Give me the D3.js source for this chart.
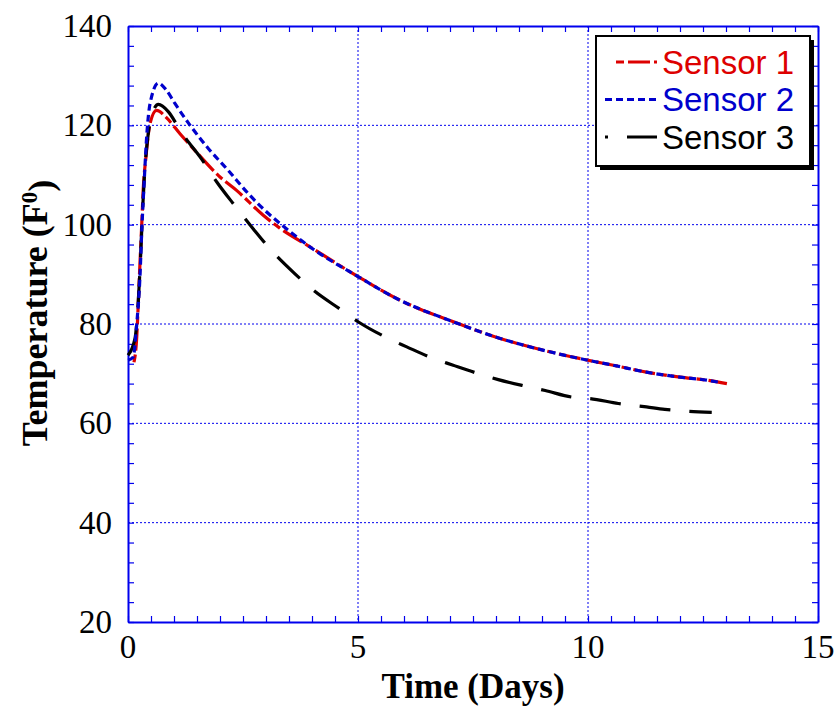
<!DOCTYPE html>
<html>
<head>
<meta charset="utf-8">
<script src="https://cdn.jsdelivr.net/npm/d3@7"></script>
<style>
  body { margin: 0; background: #fff; }
  svg { display: block; }
  .tick-label { font-family: "Liberation Serif", "Times New Roman", serif; font-size: 33px; fill: #000; }
  .axis-title { font-family: "Liberation Serif", "Times New Roman", serif; font-weight: bold; fill: #000; }
  .legend-label { font-family: "Liberation Sans", Arial, sans-serif; font-size: 33px; }
</style>
</head>
<body>
<svg id="chart"></svg>
<script>
'use strict';

// time (days) and temperature (F)
var sensor1Days = [0.13, 0.19, 0.22, 0.26, 0.30, 0.33, 0.39, 0.48, 0.62, 0.84, 1.13, 1.42, 2.00, 2.36, 2.94, 3.30, 3.96, 5.01, 5.91, 7.00, 8.09, 9.17, 10.00, 10.55, 11.27, 12.00, 12.58, 13.02];
var sensor1Temp = [72.3, 77.4, 83.4, 92.2, 100.3, 106.9, 113.6, 120.4, 123.0, 121.5, 118.3, 115.3, 109.6, 106.9, 101.9, 99.3, 95.5, 89.5, 84.8, 80.7, 77.1, 74.4, 72.7, 71.7, 70.3, 69.3, 68.7, 68.0];

var sensor2Days = [0.00, 0.11, 0.19, 0.26, 0.30, 0.35, 0.41, 0.48, 0.66, 0.84, 1.02, 1.35, 1.75, 2.18, 2.62, 3.02, 3.27, 3.96, 5.01, 5.91, 7.00, 8.09, 9.17, 10.00, 10.55, 11.27, 12.00, 12.58, 12.83];
var sensor2Temp = [72.7, 73.3, 80.0, 89.5, 98.9, 108.3, 118.3, 124.4, 128.5, 127.0, 124.4, 120.0, 115.3, 110.9, 106.2, 102.5, 100.5, 95.5, 89.5, 84.8, 80.7, 77.1, 74.4, 72.7, 71.7, 70.3, 69.3, 68.7, 68.3];

var sensor3Days = [0.00, 0.15, 0.22, 0.28, 0.32, 0.37, 0.44, 0.55, 0.66, 0.88, 1.09, 1.24, 1.57, 1.93, 2.29, 2.72, 3.12, 3.63, 4.03, 4.61, 5.01, 5.59, 6.06, 6.60, 7.07, 7.62, 8.05, 8.63, 9.07, 9.64, 10.04, 10.66, 11.27, 11.67, 12.07, 12.69];
var sensor3Temp = [73.7, 77.0, 84.0, 94.8, 103.5, 111.6, 118.3, 123.0, 124.2, 122.7, 119.7, 117.6, 113.6, 108.6, 104.2, 99.2, 94.8, 90.1, 86.8, 83.0, 80.4, 77.4, 75.4, 73.2, 71.7, 70.0, 68.8, 67.5, 66.6, 65.3, 65.0, 64.0, 63.3, 62.8, 62.5, 62.2];

var seriesNames = ['Sensor 1', 'Sensor 2', 'Sensor 3'];
var xTicks = [0, 5, 10, 15];
var yTicks = [20, 40, 60, 80, 100, 120, 140];

var MARGIN = { left: 128, top: 26, right: 21, bottom: 91 },
  WIDTH = 839,
  HEIGHT = 713,
  innerW = WIDTH - MARGIN.left - MARGIN.right,
  innerH = HEIGHT - MARGIN.top - MARGIN.bottom;

var AXIS_BLUE = '#0000ee';

var series = [
  { name: seriesNames[0], days: sensor1Days, temp: sensor1Temp, color: '#dd0000', dash: '8,4,22,4' },
  { name: seriesNames[1], days: sensor2Days, temp: sensor2Temp, color: '#0000cc', dash: '7,4' },
  { name: seriesNames[2], days: sensor3Days, temp: sensor3Temp, color: '#000000', dash: '31,19' }
];

var xScale = d3.scaleLinear().domain([0, 15]).range([0, innerW]);
var yScale = d3.scaleLinear().domain([20, 140]).range([innerH, 0]);

var svg = d3.select('#chart')
  .attr('width', WIDTH)
  .attr('height', HEIGHT);

var container = svg.append('g')
  .attr('transform', 'translate(' + MARGIN.left + ',' + MARGIN.top + ')');

// grid
container.append('g').selectAll('line')
  .data(xTicks.slice(1, -1))
  .enter().append('line')
  .attr('x1', function(d) { return xScale(d); })
  .attr('x2', function(d) { return xScale(d); })
  .attr('y1', 0).attr('y2', innerH)
  .attr('stroke', AXIS_BLUE).attr('stroke-width', 1).attr('stroke-dasharray', '2,2');

container.append('g').selectAll('line')
  .data(yTicks.slice(1, -1))
  .enter().append('line')
  .attr('y1', function(d) { return yScale(d); })
  .attr('y2', function(d) { return yScale(d); })
  .attr('x1', 0).attr('x2', innerW)
  .attr('stroke', AXIS_BLUE).attr('stroke-width', 1).attr('stroke-dasharray', '2,2');

// axes with inward minor ticks on all four sides
function styleAxis(g) {
  g.select('.domain').attr('stroke', AXIS_BLUE).attr('stroke-width', 2);
  g.selectAll('.tick line').attr('stroke', AXIS_BLUE).attr('stroke-width', 1.2);
}

var xMinor = d3.range(0, 15.01, 0.5);
var yMinor = d3.range(20, 140.01, 4);

container.append('g')
  .attr('transform', 'translate(0,' + innerH + ')')
  .call(d3.axisBottom(xScale).tickValues(xMinor).tickSizeInner(-6).tickSizeOuter(0).tickFormat(''))
  .call(styleAxis);
container.append('g')
  .call(d3.axisTop(xScale).tickValues(xMinor).tickSizeInner(-6).tickSizeOuter(0).tickFormat(''))
  .call(styleAxis);
container.append('g')
  .call(d3.axisLeft(yScale).tickValues(yMinor).tickSizeInner(-6).tickSizeOuter(0).tickFormat(''))
  .call(styleAxis);
container.append('g')
  .attr('transform', 'translate(' + innerW + ',0)')
  .call(d3.axisRight(yScale).tickValues(yMinor).tickSizeInner(-6).tickSizeOuter(0).tickFormat(''))
  .call(styleAxis);

// tick labels
container.append('g').selectAll('text')
  .data(xTicks)
  .enter().append('text')
  .attr('class', 'tick-label')
  .attr('x', function(d) { return xScale(d); })
  .attr('y', innerH + 36)
  .attr('text-anchor', 'middle')
  .text(function(d) { return d; });

container.append('g').selectAll('text')
  .data(yTicks)
  .enter().append('text')
  .attr('class', 'tick-label')
  .attr('x', -16)
  .attr('y', function(d) { return yScale(d); })
  .attr('dy', '0.33em')
  .attr('text-anchor', 'end')
  .text(function(d) { return d; });

// axis titles
svg.append('text')
  .attr('class', 'axis-title')
  .style('font-size', '35px')
  .attr('x', MARGIN.left + innerW / 2)
  .attr('y', 698)
  .attr('text-anchor', 'middle')
  .text('Time (Days)');

var yTitle = svg.append('text')
  .attr('class', 'axis-title')
  .style('font-size', '36px')
  .attr('text-anchor', 'middle')
  .attr('transform', 'translate(47,313) rotate(-90)');
yTitle.append('tspan').text('Temperature (F');
yTitle.append('tspan').attr('dy', '-0.45em').style('font-size', '23px').text('0');
yTitle.append('tspan').attr('dy', '0.45em').text(')');

// lines
var line = d3.line()
  .x(function(d) { return xScale(d[0]); })
  .y(function(d) { return yScale(d[1]); })
  .curve(d3.curveMonotoneX);

[0, 2, 1].forEach(function(i) {
  var s = series[i];
  container.append('path')
    .datum(d3.zip(s.days, s.temp))
    .attr('fill', 'none')
    .attr('stroke', s.color)
    .attr('stroke-width', 3.2)
    .attr('stroke-dasharray', s.dash)
    .attr('d', line);
});

// legend
var legend = svg.append('g').attr('transform', 'translate(596,36)');
legend.append('rect')
  .attr('x', 4).attr('y', 4).attr('width', 214).attr('height', 130)
  .attr('fill', '#000');
legend.append('rect')
  .attr('width', 214).attr('height', 130)
  .attr('fill', '#fff').attr('stroke', '#000').attr('stroke-width', 2);

var legendRows = legend.selectAll('.legend-row')
  .data(series)
  .enter().append('g')
  .attr('class', 'legend-row')
  .attr('transform', function(d, i) { return 'translate(0,' + (26 + i * 37.5) + ')'; });

legendRows.append('line')
  .attr('x1', function(d, i) { return i === 0 ? 20 : 9; })
  .attr('x2', 61)
  .attr('stroke', function(d) { return d.color; })
  .attr('stroke-width', 3)
  .attr('stroke-dasharray', function(d, i) { return i === 2 ? '31,19' : d.dash; })
  .attr('stroke-dashoffset', function(d, i) { return i === 2 ? 28 : 0; });

legendRows.append('text')
  .attr('class', 'legend-label')
  .attr('x', 66)
  .attr('dy', '0.36em')
  .attr('fill', function(d) { return d.color; })
  .text(function(d) { return d.name; });
</script>
</body>
</html>
